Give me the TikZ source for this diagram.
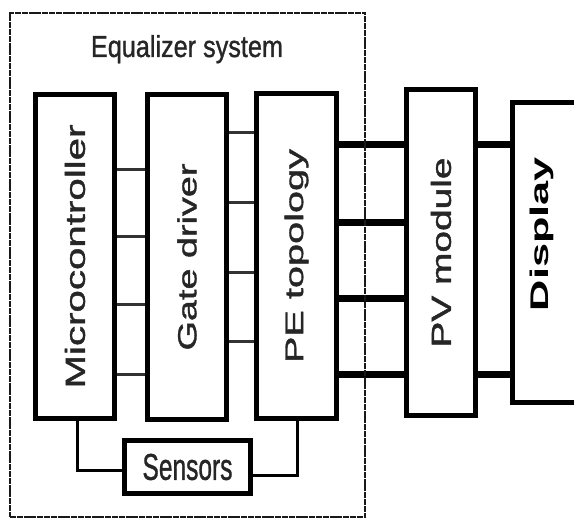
\documentclass[tikz,border=0pt]{standalone}
\usepackage{fontspec}
\setmainfont{Liberation Sans}
\newfontfamily\heavyfont[FakeBold=1.2]{Liberation Sans}
\usepackage{graphicx}
\pgfdeclarelayer{bg}
\pgfsetlayers{bg,main}
\begin{document}
\begin{tikzpicture}[x=1pt,y=-1pt,
  blk/.style={draw=black, line width=5pt, fill=white, inner sep=0pt, rectangle, text=black!85, font=\heavyfont},
  frame/.style={draw=black!90, line width=1.8pt, dash pattern=on 6pt off 0.8pt, rectangle, inner sep=0pt},
  thinw/.style={draw=black!80, line width=3pt},
  thickw/.style={draw=black, line width=7pt},
  senw/.style={draw=black, line width=3pt},
  lbl/.style={text=black!85, inner sep=0pt, font=\heavyfont}]
\clip (0,0) rectangle (574,521);
% outer frame and title
\node[frame, minimum width=355.2pt, minimum height=504.2pt] (eqsys) at (187.5,265) {};
\node[lbl, anchor=base] (eqt) at (187,57) {\resizebox{192pt}{22pt}{Equalizer system}};
% blocks
\node[blk, rotate=90, minimum width=324pt, minimum height=79pt] (mc) at (75,256.5)
  {\resizebox{264pt}{20pt}{Microcontroller}};
\node[blk, rotate=90, minimum width=325pt, minimum height=79pt] (gd) at (187,257)
  {\resizebox{187pt}{19pt}{Gate driver}};
\node[blk, rotate=90, minimum width=325pt, minimum height=80pt] (pe) at (296.5,256)
  {\resizebox{214pt}{18.5pt}{PE topology}};
\node[blk, rotate=90, minimum width=326pt, minimum height=69pt] (pv) at (441,252.5)
  {\resizebox{190pt}{20pt}{PV module}};
\node[blk, rotate=90, minimum width=300pt, minimum height=90pt] (disp) at (557.5,252.5) {};
\node[inner sep=0pt, text=black, rotate=90] (dispt) at (541.5,234) {\resizebox{154pt}{18.5pt}{\bfseries Display}};
\node[blk, minimum width=126pt, minimum height=53pt] (sen) at (187.5,467)
  {\resizebox{90pt}{26pt}{Sensors}};
% connectors (behind blocks)
\begin{pgfonlayer}{bg}
\foreach \yy in {170,237,305,375}
  \draw[thinw] (mc.south |- 0,\yy) -- (gd.north |- 0,\yy);
\foreach \yy in {133,203,273,342}
  \draw[thinw] (gd.south |- 0,\yy) -- (pe.north |- 0,\yy);
\foreach \yy in {145,223,299,375}
  \draw[thickw] (pe.south |- 0,\yy) -- (pv.north |- 0,\yy);
\foreach \yy in {145,375}
  \draw[thickw] (pv.south |- 0,\yy) -- (disp.north |- 0,\yy);
\draw[senw] (mc.east -| 77,0) |- (sen.west |- 0,471);
\draw[senw] (sen.east |- 0,476) -| (pe.east -| 297,0);
\end{pgfonlayer}
\end{tikzpicture}
\end{document}
